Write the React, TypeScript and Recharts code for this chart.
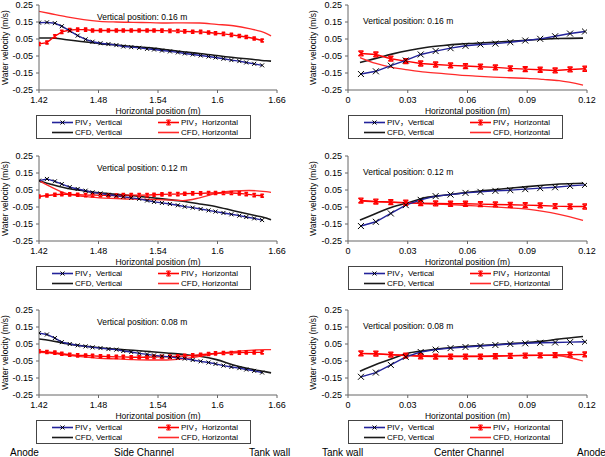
import React from "react";
import { Line, LineChart, XAxis, YAxis } from "recharts";

const FONT = "Arial, 'Liberation Sans', Helvetica, sans-serif";
const LEGEND_FONT = "Arial, 'Liberation Sans', 'Noto Sans CJK SC', sans-serif";

// horizontal positions (m)
const sideX = [
  1.42, 1.428, 1.436, 1.443, 1.451, 1.459, 1.467, 1.474, 1.482, 1.49, 1.498, 1.505, 1.513, 1.521, 1.529,
  1.536, 1.544, 1.552, 1.56, 1.567, 1.575, 1.583, 1.591, 1.598, 1.606, 1.614, 1.622, 1.629, 1.637, 1.645,
];
const sideCfdX = [1.42, 1.431, 1.448, 1.465, 1.481, 1.498, 1.515, 1.532, 1.549, 1.565, 1.582, 1.599, 1.616, 1.632, 1.649, 1.654];
const centerX = [0.0065, 0.014, 0.0215, 0.029, 0.0365, 0.044, 0.0515, 0.059, 0.0665, 0.074, 0.0815, 0.089, 0.0965, 0.104, 0.1115, 0.119];
const centerCfdX = [0.006, 0.014, 0.022, 0.031, 0.039, 0.048, 0.056, 0.064, 0.073, 0.081, 0.09, 0.098, 0.106, 0.118];

const yTicks = [-0.25, -0.15, -0.05, 0.05, 0.15, 0.25];
const sideTicks = [1.42, 1.48, 1.54, 1.6, 1.66];
const centerTicks = [0, 0.03, 0.06, 0.09, 0.12];

// side channel, 0.16 m
const pivV16Side = [0.146, 0.148, 0.143, 0.125, 0.098, 0.07, 0.048, 0.034, 0.025, 0.02, 0.014, 0.006, 0.002, -0.002, -0.008, -0.012, -0.018, -0.023, -0.029, -0.035, -0.041, -0.047, -0.053, -0.059, -0.066, -0.074, -0.08, -0.088, -0.096, -0.105];
const pivH16Side = [0.021, 0.029, 0.066, 0.092, 0.103, 0.105, 0.105, 0.1, 0.1, 0.1, 0.1, 0.1, 0.1, 0.1, 0.1, 0.1, 0.099, 0.098, 0.097, 0.095, 0.093, 0.092, 0.088, 0.084, 0.08, 0.074, 0.068, 0.062, 0.053, 0.041];
const cfdV16Side = [0.056, 0.056, 0.046, 0.034, 0.023, 0.015, 0.006, -0.002, -0.014, -0.025, -0.035, -0.047, -0.059, -0.068, -0.078, -0.08];
const cfdH16Side = [0.213, 0.2, 0.18, 0.164, 0.154, 0.15, 0.148, 0.146, 0.144, 0.145, 0.144, 0.136, 0.128, 0.111, 0.083, 0.068];

// center channel, 0.16 m
const pivV16Center = [-0.156, -0.14, -0.107, -0.076, -0.041, -0.021, -0.004, 0.01, 0.018, 0.023, 0.031, 0.041, 0.051, 0.066, 0.082, 0.094];
const pivH16Center = [-0.035, -0.041, -0.066, -0.08, -0.094, -0.1, -0.105, -0.109, -0.113, -0.117, -0.123, -0.127, -0.131, -0.135, -0.129, -0.125];
const cfdV16Center = [-0.088, -0.064, -0.039, -0.016, 0.0, 0.012, 0.02, 0.025, 0.031, 0.037, 0.043, 0.049, 0.053, 0.055];
const cfdH16Center = [-0.059, -0.094, -0.117, -0.133, -0.145, -0.154, -0.162, -0.168, -0.174, -0.178, -0.182, -0.188, -0.195, -0.221];

// side channel, 0.12 m
const pivV12Side = [0.105, 0.115, 0.101, 0.085, 0.067, 0.056, 0.046, 0.036, 0.03, 0.022, 0.016, 0.01, 0.004, -0.002, -0.012, -0.02, -0.026, -0.032, -0.04, -0.048, -0.054, -0.062, -0.07, -0.077, -0.085, -0.093, -0.101, -0.109, -0.117, -0.127];
const pivH12Side = [0.012, 0.018, 0.022, 0.026, 0.024, 0.022, 0.02, 0.02, 0.02, 0.018, 0.018, 0.02, 0.02, 0.02, 0.02, 0.022, 0.024, 0.026, 0.026, 0.028, 0.03, 0.03, 0.032, 0.032, 0.032, 0.032, 0.03, 0.026, 0.02, 0.016];
const cfdV12Side = [0.105, 0.085, 0.06, 0.045, 0.033, 0.024, 0.016, 0.006, -0.005, -0.016, -0.032, -0.048, -0.072, -0.093, -0.115, -0.125];
const cfdH12Side = [0.105, 0.071, 0.028, 0.012, 0.004, 0.0, -0.004, -0.006, -0.008, -0.012, 0.004, 0.03, 0.044, 0.047, 0.04, 0.036];

// center channel, 0.12 m
const pivV12Center = [-0.162, -0.137, -0.088, -0.039, -0.008, 0.014, 0.023, 0.033, 0.039, 0.045, 0.049, 0.055, 0.061, 0.066, 0.074, 0.08];
const pivH12Center = [-0.012, -0.018, -0.021, -0.025, -0.027, -0.029, -0.031, -0.031, -0.033, -0.035, -0.037, -0.039, -0.041, -0.045, -0.047, -0.047];
const cfdV12Center = [-0.127, -0.088, -0.051, -0.022, 0.005, 0.019, 0.03, 0.041, 0.051, 0.06, 0.07, 0.078, 0.085, 0.09];
const cfdH12Center = [-0.016, -0.02, -0.023, -0.027, -0.031, -0.035, -0.039, -0.043, -0.049, -0.055, -0.063, -0.076, -0.094, -0.129];

// side channel, 0.08 m
const pivV08Side = [0.114, 0.106, 0.085, 0.061, 0.05, 0.042, 0.036, 0.03, 0.026, 0.02, 0.017, 0.009, 0.003, -0.005, -0.011, -0.017, -0.022, -0.026, -0.032, -0.036, -0.044, -0.052, -0.059, -0.067, -0.077, -0.085, -0.092, -0.1, -0.108, -0.118];
const pivH08Side = [0.007, 0.003, -0.001, -0.007, -0.013, -0.017, -0.018, -0.02, -0.022, -0.024, -0.026, -0.026, -0.028, -0.028, -0.028, -0.026, -0.026, -0.024, -0.022, -0.02, -0.017, -0.013, -0.009, -0.005, -0.003, -0.003, -0.001, 0.001, 0.001, 0.001];
const cfdV08Side = [0.079, 0.071, 0.052, 0.038, 0.028, 0.02, 0.013, 0.005, -0.003, -0.011, -0.022, -0.042, -0.073, -0.096, -0.114, -0.12];
const cfdH08Side = [0.001, -0.003, -0.015, -0.026, -0.034, -0.038, -0.042, -0.044, -0.044, -0.038, -0.022, -0.007, 0.005, 0.013, 0.017, 0.017];

// center channel, 0.08 m
const pivV08Center = [-0.143, -0.118, -0.073, -0.026, 0.003, 0.017, 0.026, 0.032, 0.038, 0.044, 0.05, 0.054, 0.057, 0.059, 0.061, 0.063];
const pivH08Center = [-0.005, -0.007, -0.013, -0.018, -0.022, -0.024, -0.024, -0.024, -0.024, -0.022, -0.02, -0.018, -0.017, -0.015, -0.013, -0.011];
const cfdV08Center = [-0.11, -0.071, -0.037, -0.002, 0.012, 0.025, 0.034, 0.04, 0.046, 0.052, 0.059, 0.067, 0.079, 0.094];
const cfdH08Center = [-0.007, -0.008, -0.012, -0.017, -0.019, -0.02, -0.02, -0.02, -0.019, -0.018, -0.016, -0.015, -0.019, -0.05];

const BLUE = "#23239a";
const RED = "#ff0000";
const RED2 = "#ff2a2a";
const BLACK = "#1a1a1a";
const AXIS = "#666";

const zip = (xs: number[], ys: number[]) => xs.map((x, i) => ({ x, y: ys[i] }));

const crossDot = (s: number) => (p: any) => {
  const { cx, cy, index } = p;
  if (cx == null || cy == null) return <g key={`xc${index}`} />;
  return (
    <path
      key={`xc${index}`}
      d={`M${cx - s},${cy - s}L${cx + s},${cy + s}M${cx - s},${cy + s}L${cx + s},${cy - s}`}
      stroke="#000"
      strokeWidth={1}
      fill="none"
    />
  );
};

const starDot = (s: number) => (p: any) => {
  const { cx, cy, index } = p;
  if (cx == null || cy == null) return <g key={`st${index}`} />;
  return (
    <path
      key={`st${index}`}
      d={`M${cx},${cy - s}V${cy + s}M${cx - s},${cy - s}L${cx + s},${cy + s}M${cx - s},${cy + s}L${cx + s},${cy - s}M${cx - s},${cy - s}H${cx + s}M${cx - s},${cy + s}H${cx + s}`}
      stroke={RED}
      strokeWidth={1.2}
      fill="none"
    />
  );
};

const legendItems = [
  { name: "PIV，Vertical", color: BLUE, marker: "x" },
  { name: "PIV，Horizontal", color: RED, marker: "star" },
  { name: "CFD, Vertical", color: BLACK, marker: "" },
  { name: "CFD, Horizontal", color: RED2, marker: "" },
];

const LegendBox = ({ left, top }: { left: number; top: number }) => (
  <div
    style={{
      position: "absolute",
      left,
      top,
      width: 215,
      height: 24,
      border: "1px solid #444",
      boxSizing: "border-box",
      fontFamily: LEGEND_FONT,
      fontSize: 8,
      color: "#000",
    }}
  >
    {legendItems.map((it, i) => (
      <div
        key={it.name}
        style={{
          position: "absolute",
          left: i % 2 ? 121 : 15,
          top: i < 2 ? 2 : 12,
          height: 9,
          display: "flex",
          alignItems: "center",
          whiteSpace: "nowrap",
        }}
      >
        <svg width={21} height={9}>
          <line x1={0} y1={4.5} x2={21} y2={4.5} stroke={it.color} strokeWidth={1.6} />
          {it.marker === "x" && <path d="M8.5,2.5L12.5,6.5M8.5,6.5L12.5,2.5" stroke="#000" strokeWidth={1} />}
          {it.marker === "star" && (
            <path d="M10.5,2V7M8.5,2L12.5,7M8.5,7L12.5,2M8.5,2H12.5M8.5,7H12.5" stroke={RED} strokeWidth={1} fill="none" />
          )}
        </svg>
        <span style={{ marginLeft: 2, lineHeight: "9px" }}>{it.name}</span>
      </div>
    ))}
  </div>
);

type PanelProps = {
  left: number;
  top: number;
  side: boolean;
  height: string;
  pivV: number[];
  pivH: number[];
  cfdV: number[];
  cfdH: number[];
};

const Panel = ({ left, top, side, height, pivV, pivH, cfdV, cfdH }: PanelProps) => {
  const xs = side ? sideX : centerX;
  const xc = side ? sideCfdX : centerCfdX;
  const axisW = side ? 39 : 48;
  const plotW = side ? 238 : 239;
  const dom: [number, number] = side ? [1.42, 1.66] : [0, 0.12];
  const m = side ? 2 : 3;
  const tickStyle = { fontSize: 9, fill: "#000", fontFamily: FONT };
  return (
    <>
      <div style={{ position: "absolute", left, top: top - 5 }}>
        <LineChart width={axisW + plotW + 13} height={118} margin={{ top: 5, right: 13, bottom: 0, left: 0 }}>
          <XAxis
            type="number"
            dataKey="x"
            domain={dom}
            ticks={side ? sideTicks : centerTicks}
            interval={0}
            allowDataOverflow
            height={28}
            tickSize={3}
            tickMargin={4}
            tick={tickStyle}
            tickFormatter={(v: number) => String(v)}
            axisLine={{ stroke: AXIS }}
            tickLine={{ stroke: AXIS }}
            label={{
              value: "Horizontal position (m)",
              position: "insideBottom",
              offset: 4,
              style: { fontSize: 8.5, fill: "#000", fontFamily: FONT },
            }}
          />
          <XAxis xAxisId="t" type="number" orientation="top" domain={dom} height={0} tick={false} tickLine={false} axisLine={{ stroke: AXIS }} />
          <YAxis
            type="number"
            domain={[-0.25, 0.25]}
            ticks={yTicks}
            interval={0}
            allowDataOverflow
            width={axisW}
            tickSize={3}
            tickMargin={3}
            tick={tickStyle}
            tickFormatter={(v: number) => v.toFixed(2)}
            axisLine={{ stroke: AXIS }}
            tickLine={{ stroke: AXIS }}
            label={{
              value: "Water velocity (m/s)",
              angle: -90,
              position: "insideLeft",
              offset: side ? 5 : 13,
              style: { textAnchor: "middle", fontSize: 8.5, fill: "#000", fontFamily: FONT },
            }}
          />
          <YAxis yAxisId="r" orientation="right" domain={[-0.25, 0.25]} width={0} tick={false} tickLine={false} axisLine={{ stroke: AXIS }} />
          <Line name="CFD, Vertical" data={zip(xc, cfdV)} dataKey="y" type="monotone" stroke={BLACK} strokeWidth={1.6} dot={false} activeDot={false} isAnimationActive={false} />
          <Line name="CFD, Horizontal" data={zip(xc, cfdH)} dataKey="y" type="monotone" stroke={RED2} strokeWidth={1.3} dot={false} activeDot={false} isAnimationActive={false} />
          <Line name="PIV, Horizontal" data={zip(xs, pivH)} dataKey="y" type="linear" stroke={RED} strokeWidth={1.4} dot={starDot(m * 0.85)} activeDot={false} isAnimationActive={false} />
          <Line name="PIV, Vertical" data={zip(xs, pivV)} dataKey="y" type="linear" stroke={BLUE} strokeWidth={1.4} dot={crossDot(m)} activeDot={false} isAnimationActive={false} />
        </LineChart>
      </div>
      <div
        style={{
          position: "absolute",
          left: side ? 97 : 363,
          top: top + (side ? 12 : 16) - 5,
          fontFamily: FONT,
          fontSize: 8.5,
          lineHeight: "10px",
          whiteSpace: "nowrap",
          color: "#000",
        }}
      >
        Vertical position: {height} m
      </div>
      <LegendBox left={side ? 36 : 348} top={top + 110} />
    </>
  );
};

const bottomLabels = [
  { text: "Anode", x: 10 },
  { text: "Side Channel", x: 114 },
  { text: "Tank wall", x: 249 },
  { text: "Tank wall", x: 322 },
  { text: "Center Channel", x: 434 },
  { text: "Anode", x: 577 },
];

export default function App() {
  return (
    <div style={{ position: "absolute", left: 0, top: 0, width: 605, height: 457, background: "#fff", overflow: "hidden" }}>
      <Panel left={0} top={5} side height="0.16" pivV={pivV16Side} pivH={pivH16Side} cfdV={cfdV16Side} cfdH={cfdH16Side} />
      <Panel left={300} top={5} side={false} height="0.16" pivV={pivV16Center} pivH={pivH16Center} cfdV={cfdV16Center} cfdH={cfdH16Center} />
      <Panel left={0} top={156} side height="0.12" pivV={pivV12Side} pivH={pivH12Side} cfdV={cfdV12Side} cfdH={cfdH12Side} />
      <Panel left={300} top={156} side={false} height="0.12" pivV={pivV12Center} pivH={pivH12Center} cfdV={cfdV12Center} cfdH={cfdH12Center} />
      <Panel left={0} top={310} side height="0.08" pivV={pivV08Side} pivH={pivH08Side} cfdV={cfdV08Side} cfdH={cfdH08Side} />
      <Panel left={300} top={310} side={false} height="0.08" pivV={pivV08Center} pivH={pivH08Center} cfdV={cfdV08Center} cfdH={cfdH08Center} />
      {bottomLabels.map((b, i) => (
        <div
          key={i}
          style={{ position: "absolute", left: b.x, top: 447, fontFamily: FONT, fontSize: 10, lineHeight: "12px", whiteSpace: "nowrap", color: "#000" }}
        >
          {b.text}
        </div>
      ))}
    </div>
  );
}
